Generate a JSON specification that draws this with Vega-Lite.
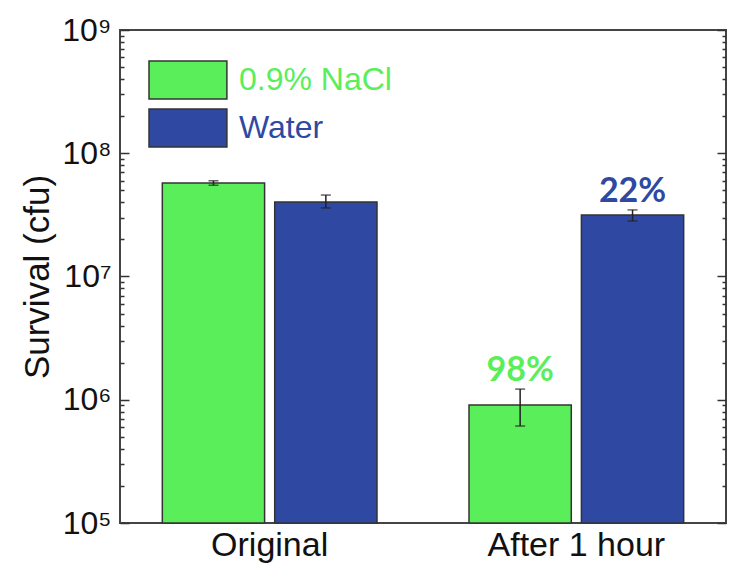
{
  "$schema": "https://vega.github.io/schema/vega-lite/v6.json",
  "width": 606,
  "height": 493,
  "autosize": {"type": "none"},
  "padding": {"left": 120, "top": 30, "right": 3, "bottom": 44},
  "data": {
    "values": [
      {"group": "Original", "series": "0.9% NaCl", "value": 57400000, "lo": 55000000, "hi": 59800000, "label": ""},
      {"group": "Original", "series": "Water", "value": 40200000, "lo": 36000000, "hi": 45800000, "label": ""},
      {"group": "After 1 hour", "series": "0.9% NaCl", "value": 906000, "lo": 612000, "hi": 1220000, "label": "98%"},
      {"group": "After 1 hour", "series": "Water", "value": 31500000, "lo": 28200000, "hi": 34700000, "label": "22%"}
    ]
  },
  "encoding": {
    "x": {
      "field": "group",
      "type": "nominal",
      "sort": ["Original", "After 1 hour"],
      "scale": {"paddingInner": 0.3, "paddingOuter": 0.138},
      "axis": {"title": null, "labelAngle": 0, "ticks": false, "domain": false, "labelFontSize": 34, "labelPadding": 5, "labelColor": "#111"}
    },
    "xOffset": {
      "field": "series",
      "type": "nominal",
      "sort": ["0.9% NaCl", "Water"],
      "scale": {"paddingInner": 0.09, "paddingOuter": 0}
    }
  },
  "layer": [
    {
      "mark": {"type": "bar", "stroke": "#333", "strokeWidth": 1.5},
      "encoding": {
        "y": {
          "field": "value",
          "type": "quantitative",
          "scale": {"type": "log", "domain": [100000, 1000000000], "nice": false},
          "axis": {
            "orient": "left",
            "zindex": 1,
            "title": "Survival (cfu)",
            "titleFontSize": 35,
            "titleFontWeight": "normal",
            "titleColor": "#111",
            "titlePadding": 6,
            "grid": false,
            "domain": false,
            "values": [100000, 200000, 300000, 400000, 500000, 600000, 700000, 800000, 900000,
                       1000000, 2000000, 3000000, 4000000, 5000000, 6000000, 7000000, 8000000, 9000000,
                       10000000, 20000000, 30000000, 40000000, 50000000, 60000000, 70000000, 80000000, 90000000,
                       100000000, 200000000, 300000000, 400000000, 500000000, 600000000, 700000000, 800000000, 900000000,
                       1000000000],
            "labelExpr": "abs(log(datum.value)/LN10 - round(log(datum.value)/LN10)) < 0.001 ? '10' + ['⁰','¹','²','³','⁴','⁵','⁶','⁷','⁸','⁹'][round(log(datum.value)/LN10)] : ''",
            "labelFontSize": 32,
            "labelColor": "#111",
            "labelOverlap": false,
            "labelFlush": false,
            "labelPadding": 18,
            "tickColor": "#333",
            "tickWidth": 1.5,
            "tickSize": {"condition": {"test": "abs(log(datum.value)/LN10 - round(log(datum.value)/LN10)) < 0.001", "value": -9}, "value": -4}
          }
        },
        "y2": {"datum": 100000},
        "color": {
          "field": "series",
          "type": "nominal",
          "sort": ["0.9% NaCl", "Water"],
          "scale": {"domain": ["0.9% NaCl", "Water"], "range": ["#5aee5a", "#2f49a3"]},
          "legend": {
            "title": null,
            "orient": "none",
            "legendX": 28,
            "legendY": 30,
            "padding": 0,
            "symbolType": "M-1,-1H3.1V1H-1Z",
            "symbolSize": 1444,
            "symbolStrokeColor": "#333",
            "symbolStrokeWidth": 1.5,
            "symbolOpacity": 1,
            "labelOffset": 51,
            "labelFontSize": 32,
            "labelLimit": 300,
            "rowPadding": 4,
            "labelColor": {"expr": "datum.value == 'Water' ? '#2f49a3' : '#5aee5a'"}
          }
        }
      }
    },
    {
      "mark": {"type": "rule", "color": "#222", "strokeWidth": 1.5},
      "encoding": {
        "y": {
          "field": "lo",
          "type": "quantitative",
          "axis": {
            "orient": "right",
            "zindex": 1,
            "title": null,
            "labels": false,
            "grid": false,
            "domain": false,
            "values": [100000, 200000, 300000, 400000, 500000, 600000, 700000, 800000, 900000,
                       1000000, 2000000, 3000000, 4000000, 5000000, 6000000, 7000000, 8000000, 9000000,
                       10000000, 20000000, 30000000, 40000000, 50000000, 60000000, 70000000, 80000000, 90000000,
                       100000000, 200000000, 300000000, 400000000, 500000000, 600000000, 700000000, 800000000, 900000000,
                       1000000000],
            "tickColor": "#333",
            "tickWidth": 1.5,
            "tickSize": {"condition": {"test": "abs(log(datum.value)/LN10 - round(log(datum.value)/LN10)) < 0.001", "value": -9}, "value": -4}
          }
        },
        "y2": {"field": "hi"}
      }
    },
    {
      "mark": {"type": "tick", "color": "#222", "size": 10, "thickness": 1.5},
      "encoding": {"y": {"field": "lo", "type": "quantitative", "axis": null}}
    },
    {
      "mark": {"type": "tick", "color": "#222", "size": 10, "thickness": 1.5},
      "encoding": {"y": {"field": "hi", "type": "quantitative", "axis": null}}
    },
    {
      "mark": {"type": "text", "font": "Lato", "fontWeight": "bold", "fontSize": 34, "baseline": "alphabetic", "dy": -8},
      "encoding": {
        "y": {"field": "hi", "type": "quantitative", "axis": null},
        "text": {"field": "label"},
        "color": {"field": "series", "type": "nominal", "legend": null}
      }
    }
  ],
  "resolve": {"axis": {"y": "independent"}},
  "config": {
    "font": "Liberation Sans",
    "view": {"stroke": "#444", "strokeWidth": 2},
    "background": "white"
  }
}
